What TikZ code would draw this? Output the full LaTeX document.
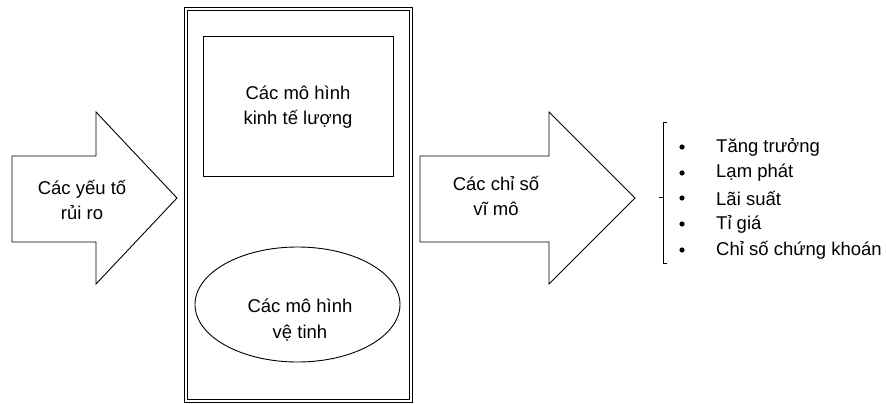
\documentclass[tikz,border=0pt]{standalone}
\usepackage{fontspec}
\setmainfont{Liberation Sans}
\usetikzlibrary{shapes.geometric}
\begin{document}
\begin{tikzpicture}[x=1pt,y=-1pt,
  lbl/.style={align=center,font=\fontsize{18.5}{25.5}\selectfont,inner sep=0pt},
  itemtxt/.style={anchor=west,font=\fontsize{18.5}{25}\selectfont,inner sep=0pt},
  shp/.style={draw=black,line width=0.9pt,line join=miter}]
\useasboundingbox (0,0) rectangle (886,404);
% left arrow
\draw[shp] (12,156) -- (96,156) -- (96,112) -- (177,198) -- (96,284) -- (96,242) -- (12,242) -- cycle;
\node[lbl] (risk) at (82,200) {Các yếu tố\\rủi ro};
% big double box
\draw[shp] (184,7) rectangle (412,402);
\draw[shp] (187,10) rectangle (409,399);
\node[shp,rectangle,minimum width=190pt,minimum height=140pt] (econ) at (298,106) {};
\node[lbl] (econtxt) at (298,107) {Các mô hình\\kinh tế lượng};
\node[shp,ellipse,minimum width=205pt,minimum height=115pt,inner sep=0pt] (sat) at (297.5,304.5) {};
\node[lbl] (sattxt) at (300,320) {Các mô hình\\vệ tinh};
% right arrow
\draw[shp] (420,156) -- (549,156) -- (549,112) -- (635,198) -- (549,284) -- (549,242) -- (420,242) -- cycle;
\node[lbl] (macro) at (496,196) {Các chỉ số\\vĩ mô};
% bracket
\draw[line width=0.9pt] (667,122) -- (663,122) -- (663,263) -- (667,263);
\draw[line width=0.9pt] (663,197) -- (659,197);
% list
\foreach \y/\t/\n in {147/Tăng trưởng/a,173/Lạm phát/b,198/Lãi suất/c,224/Tỉ giá/d,250/Chỉ số chứng khoán/e}{
  \fill (682,\y) circle (2.6pt);
  \node[itemtxt] (it\n) at (716,\y) {\t};
}
\end{tikzpicture}
\end{document}
